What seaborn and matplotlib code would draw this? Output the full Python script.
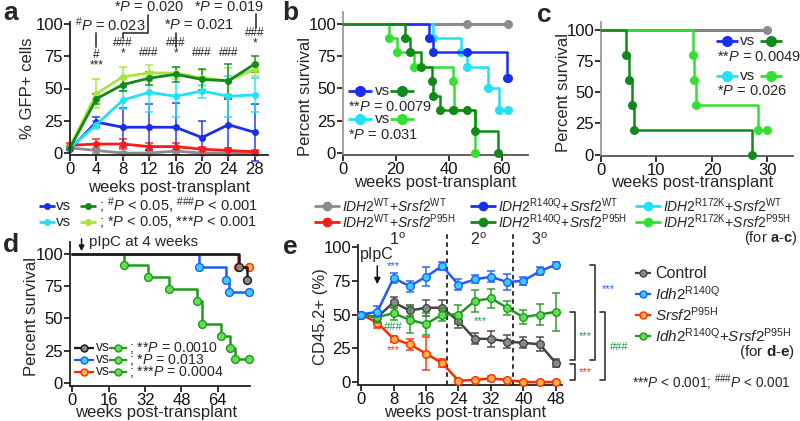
import matplotlib.pyplot as plt
import seaborn as sns
import pandas as pd
from matplotlib.lines import Line2D
from matplotlib import transforms

sns.set_theme(style="ticks")
plt.rcParams['font.family'] = ['Liberation Sans', 'DejaVu Sans']
plt.rcParams['mathtext.fontset'] = 'custom'
plt.rcParams['mathtext.rm'] = 'Liberation Sans'
plt.rcParams['mathtext.it'] = 'Liberation Sans:italic'
plt.rcParams['mathtext.bf'] = 'Liberation Sans:bold'

# ---------------- data ----------------
# panel a: % GFP+ cells
a_weeks = [0, 4, 8, 12, 16, 20, 24, 28]
a_wt_wt = [4, 2, 0, 0, 1.5, 0, 0, 0]
a_wt_wt_err = [1, 2, 1, 1, 2, 1, 1, 1]
a_wt_p95h = [6, 7, 7, 5, 5, 3, 2, 1]
a_wt_p95h_err = [2, 4, 4, 3, 3, 2, 2, 1]
a_r140q_wt = [3, 24, 20, 20, 20, 12, 22, 16]
a_r140q_wt_err = [1, 4, 15, 18, 19, 13, 20, 22]
a_r172k_wt = [4, 22, 41, 47, 44, 48, 44, 45]
a_r172k_wt_err = [1, 3, 7, 15, 16, 5, 16, 13]
a_r140q_p95h = [4, 42, 53, 58, 61, 57, 56, 69]
a_r140q_p95h_err = [1, 4, 5, 5, 6, 8, 13, 6]
a_r172k_p95h = [5, 46, 59, 62, 62, 58, 56, 65]
a_r172k_p95h_err = [1, 11, 8, 6, 5, 6, 10, 5]

# panel b: survival (event times / survival after event, censored points)
b_end = 62.5
b_wt_wt_cens_t = [46.8, 62.5]
b_r140q_wt_t = [32.5, 34, 62]
b_r140q_wt_s = [88.9, 77.8, 58.3]
b_r140q_wt_cens_t = [46.8, 62.5]
b_r172k_wt_t = [34, 44.5, 46.8, 55, 59]
b_r172k_wt_s = [88.9, 77.8, 66.7, 50, 33.3]
b_r172k_wt_cens_t = [62.5]
b_r140q_p95h_t = [23.4, 25.3, 29.4, 33.6, 34, 36.6, 49.8, 58.5]
b_r140q_p95h_s = [88.9, 77.8, 66.7, 55.6, 44.4, 33.3, 16.7, 0]
b_r140q_p95h_cens_t = [41.5, 46.8]
b_r172k_p95h_t = [17.4, 20.4, 27, 41.5, 42, 50]
b_r172k_p95h_s = [88.9, 77.8, 66.7, 55.6, 33.3, 0]

# panel c: survival
c_end = 30
c_r140q_p95h_t = [4.5, 5, 5.5, 6, 27.3]
c_r140q_p95h_s = [80, 60, 40, 20, 0]
c_r172k_p95h_t = [16.5, 16.8, 17.2, 28.3]
c_r172k_p95h_s = [80, 60, 40, 20]
c_r172k_p95h_cens_t = [30]

# panel d: survival
d_ctrl_t = [73.3, 76.9]
d_ctrl_s = [90, 80]
d_srsf_t = [73]
d_srsf_s = [90]
d_srsf_cens_t = [77.8]
d_idh_t = [55.7, 67.6, 69]
d_idh_s = [90, 80, 70]
d_idh_cens_t = [77.8]
d_combo_t = [22.7, 33.3, 42.5, 54.8, 57, 65.4, 69.4, 71.6]
d_combo_s = [90.9, 81.8, 72.7, 63.6, 45.5, 36.4, 27.3, 18.2]
d_combo_cens_t = [77.8]

# panel e: CD45.2+ chimerism
e_weeks = [0, 4, 8, 12, 16, 20, 24, 28, 32, 36, 40, 44, 48]
e_ctrl = [50, 48, 59, 53, 55, 55, 45, 32, 32, 30, 29, 28, 14]
e_ctrl_err = [1, 3, 4, 4, 6, 6, 5, 4, 6, 5, 4, 5, 3]
e_idh = [50, 52, 77, 71, 78, 86, 72, 76, 78, 74, 75, 82, 87]
e_idh_err = [1, 4, 4, 4, 7, 3, 4, 3, 4, 6, 3, 3, 2]
e_srsf = [50, 44, 32, 28, 21, 14, 1, 1.5, 2.7, 1.5, 0, 0, 0]
e_srsf_err = [1, 4, 2, 4, 12, 3, 1, 1, 2, 1, 1, 1, 1]
e_combo = [50, 48, 51, 46, 43, 50, 50, 60, 62, 55, 48, 50, 52]
e_combo_err = [1, 4, 5, 10, 8, 5, 7, 8, 7, 5, 5, 8, 14]
e_phase_bounds = [21.2, 37.4]

# colours
GRAY, RED, BLUE, DKGREEN = '#8c8c8c', '#ff1a1a', '#1a2ef0', '#118a1a'
CYAN, LIME_A, LIME = '#22e0f5', '#a6e63a', '#33e033'

W, H = 800, 421
fig = plt.figure(figsize=(8, 4.21), dpi=100)


def fx(x):
    return x / W


def fy(y):
    return 1 - y / H


def add_axes(l, t, r, b):
    return fig.add_axes([fx(l), fy(b), (r - l) / W, (b - t) / H])


def ftext(x, y, s, size=11.5, **kw):
    kw.setdefault('ha', 'left')
    kw.setdefault('va', 'center')
    fig.text(fx(x), fy(y), s, fontsize=size, **kw)


def fline(xs, ys, color='#333333', lw=1.2, **kw):
    fig.add_artist(Line2D([fx(v) for v in xs], [fy(v) for v in ys], color=color,
                          lw=lw, transform=fig.transFigure, **kw))


def leg_item(xc, y, color, face=None, edge=None, half=9, ms=6, lw=2):
    fline([xc - half, xc + half], [y, y], color=color, lw=lw, solid_capstyle='butt')
    fig.add_artist(Line2D([fx(xc)], [fy(y)], marker='o', ms=ms, lw=0,
                          mfc=face or color, mec=edge or color, mew=1,
                          transform=fig.transFigure))


def style_ax(ax, left_color='#222222', bottom_color='#222222'):
    sns.despine(ax=ax)
    ax.spines['left'].set_color(left_color)
    ax.spines['bottom'].set_color(bottom_color)
    for s in ('left', 'bottom'):
        ax.spines[s].set_linewidth(1.3)
    ax.tick_params(labelsize=12, length=4, width=1.2, pad=1, colors='#111111')
    ax.set_xlabel('')
    ax.set_ylabel('')


def mean_sem(ax, x, y, err, color, face=None, ms=4, lw=2, capsize=3, z=2):
    sns.lineplot(x=x, y=y, color=color, lw=lw, marker='o', ms=ms, mfc=face or color,
                 mec=color, mew=1, ax=ax, zorder=z, clip_on=False)
    ax.errorbar(x, y, yerr=err, fmt='none', ecolor=color, elinewidth=1.2,
                capsize=capsize, capthick=1.2, alpha=0.85, zorder=z - 0.5, clip_on=False)


def km(ax, t_ev, s_ev, end, color, cens_t=(), face=None, edge=None, size=30, lw=1.8, z=2):
    last = s_ev[-1] if len(s_ev) else 100
    t = [0] + list(t_ev) + [end]
    s = [100] + list(s_ev) + [last]
    df = pd.DataFrame({'t': t, 's': s})
    sns.lineplot(data=df, x='t', y='s', drawstyle='steps-post', estimator=None, sort=False,
                 color=color, lw=lw, ax=ax, zorder=z, clip_on=False)
    # survival level at each censoring time
    cens_s = []
    for ct in cens_t:
        lvl = 100
        for tt, ss in zip(t_ev, s_ev):
            if tt <= ct:
                lvl = ss
        cens_s.append(lvl)
    px = list(t_ev) + list(cens_t)
    py = list(s_ev) + cens_s
    if px:
        sns.scatterplot(x=px, y=py, s=size, color=face or color, edgecolor=edge or color,
                        linewidth=1, ax=ax, zorder=z + 0.5, clip_on=False)


# ================= panel a =================
axa = add_axes(70, 22, 268, 155)
mean_sem(axa, a_weeks, a_wt_wt, a_wt_wt_err, GRAY)
mean_sem(axa, a_weeks, a_wt_p95h, a_wt_p95h_err, RED)
mean_sem(axa, a_weeks, a_r140q_wt, a_r140q_wt_err, BLUE)
mean_sem(axa, a_weeks, a_r172k_wt, a_r172k_wt_err, CYAN)
mean_sem(axa, a_weeks, a_r172k_p95h, a_r172k_p95h_err, LIME_A)
mean_sem(axa, a_weeks, a_r140q_p95h, a_r140q_p95h_err, DKGREEN)
axa.set_xlim(0, 30)
axa.set_ylim(-1.5, 101.5)
axa.set_xticks(a_weeks)
axa.set_yticks([0, 25, 50, 75, 100])
style_ax(axa)
ftext(28, 88, '% GFP+ cells', size=12, rotation=90, ha='center')
ftext(169, 188, 'weeks post-transplant', size=12, ha='center')

# significance marks above time points
ta = transforms.blended_transform_factory(axa.transData, fig.transFigure)
marks = {4: [('#', 55), ('***', 65)], 8: [('###', 43), ('*', 53)], 12: [('###', 53)],
         16: [('###', 43), ('*', 53)], 20: [('###', 53)], 24: [('###', 53)],
         28: [('###', 33), ('*', 43)]}
for wk, items in marks.items():
    for s, y in items:
        axa.text(wk, fy(y), s, transform=ta, ha='center', va='center', fontsize=8.5)
ftext(110, 25, r'$^{\#}\mathit{P}$ = 0.023', size=10.5, ha='center')
ftext(199, 25, r'*$\mathit{P}$ = 0.021', size=10.5, ha='center')
ftext(149, 7, r'*$\mathit{P}$ = 0.020', size=10.5, ha='center')
ftext(229, 7, r'*$\mathit{P}$ = 0.019', size=10.5, ha='center')
fline([96, 96], [33, 47])
fline([176, 176], [33, 47])
fline([256, 256], [14, 28])
fline([148, 148, 123, 123], [15, 33, 33, 38])

# legend rows under a
leg_item(47, 206, BLUE, half=8, ms=4)
ftext(56, 206, 'vs', size=11)
leg_item(88, 206, DKGREEN, half=8, ms=4)
ftext(99, 206, r'; $^{\#}\mathit{P}$ < 0.05, $^{\#\#\#}\mathit{P}$ < 0.001', size=10.5)
leg_item(47, 222, CYAN, half=8, ms=4)
ftext(56, 222, 'vs', size=11)
leg_item(88, 222, LIME_A, half=8, ms=4)
ftext(99, 222, r'; *$\mathit{P}$ < 0.05, ***$\mathit{P}$ < 0.001', size=10.5)

# ================= panel b =================
axb = add_axes(343, 12, 528, 155)
km(axb, [], [], b_end, RED, z=2)
km(axb, [], [], b_end, GRAY, cens_t=b_wt_wt_cens_t, z=3)
km(axb, b_r172k_wt_t, b_r172k_wt_s, b_end, CYAN, cens_t=b_r172k_wt_cens_t, z=4)
km(axb, b_r140q_wt_t, b_r140q_wt_s, b_end, BLUE, cens_t=b_r140q_wt_cens_t, z=5)
km(axb, b_r172k_p95h_t, b_r172k_p95h_s, b_r172k_p95h_t[-1], LIME, z=6)
km(axb, b_r140q_p95h_t, b_r140q_p95h_s, b_r140q_p95h_t[-1], DKGREEN,
   cens_t=b_r140q_p95h_cens_t, z=7)
axb.set_xlim(0, 70)
axb.set_ylim(-1.5, 109)
axb.set_xticks([0, 20, 40, 60])
axb.set_yticks([0, 25, 50, 75, 100])
style_ax(axb, left_color='#9a9a9a', bottom_color='#555555')
ftext(305, 96, 'Percent survival', size=12, rotation=90, ha='center')
ftext(435, 183, 'weeks post-transplant', size=12, ha='center')
leg_item(360, 91, BLUE, half=12, ms=7)
ftext(375, 91, 'vs', size=11)
leg_item(402, 91, DKGREEN, half=12, ms=7)
ftext(348, 107, r'**$\mathit{P}$ = 0.0079', size=10.5)
leg_item(360, 119, CYAN, half=12, ms=7)
ftext(375, 119, 'vs', size=11)
leg_item(402, 119, LIME, half=12, ms=7)
ftext(348, 135, r'*$\mathit{P}$ = 0.031', size=10.5)

# ================= panel c =================
axc = add_axes(601, 22, 793, 156)
km(axc, [], [], c_end, RED, z=2)
km(axc, [], [], c_end, CYAN, z=3)
km(axc, [], [], c_end, BLUE, z=4)
km(axc, [], [], c_end, GRAY, cens_t=[c_end], z=5)
km(axc, c_r172k_p95h_t, c_r172k_p95h_s, c_end, LIME, cens_t=c_r172k_p95h_cens_t, z=6)
km(axc, c_r140q_p95h_t, c_r140q_p95h_s, c_r140q_p95h_t[-1], DKGREEN, z=7)
axc.set_xlim(0, 34.6)
axc.set_ylim(-1.2, 106.5)
axc.set_xticks([0, 10, 20, 30])
axc.set_yticks([0, 25, 50, 75, 100])
style_ax(axc, left_color='#9a9a9a', bottom_color='#555555')
ftext(563, 92, 'Percent survival', size=12, rotation=90, ha='center')
ftext(692, 183, 'weeks post-transplant', size=12, ha='center')
leg_item(727, 41, BLUE, half=11, ms=7)
ftext(740, 41, 'vs', size=11)
leg_item(771, 41, DKGREEN, half=11, ms=7)
ftext(717, 57, r'**$\mathit{P}$ = 0.0049', size=10.5)
leg_item(727, 76, CYAN, half=11, ms=7)
ftext(740, 76, 'vs', size=11)
leg_item(771, 76, LIME, half=11, ms=7)
ftext(717, 91, r'*$\mathit{P}$ = 0.026', size=10.5)

# ================= middle legend (a-c) =================
geno = [
    (327, 206, GRAY, r'$\mathit{IDH2}^{\mathrm{WT}}$+$\mathit{Srsf2}^{\mathrm{WT}}$'),
    (327, 222, RED, r'$\mathit{IDH2}^{\mathrm{WT}}$+$\mathit{Srsf2}^{\mathrm{P95H}}$'),
    (483, 206, BLUE, r'$\mathit{IDH2}^{\mathrm{R140Q}}$+$\mathit{Srsf2}^{\mathrm{WT}}$'),
    (483, 222, DKGREEN, r'$\mathit{IDH2}^{\mathrm{R140Q}}$+$\mathit{Srsf2}^{\mathrm{P95H}}$'),
    (648, 206, CYAN, r'$\mathit{IDH2}^{\mathrm{R172K}}$+$\mathit{Srsf2}^{\mathrm{WT}}$'),
    (648, 222, LIME, r'$\mathit{IDH2}^{\mathrm{R172K}}$+$\mathit{Srsf2}^{\mathrm{P95H}}$'),
]
for xc, y, c, lab in geno:
    leg_item(xc, y, c, half=13, ms=6)
    ftext(xc + 15, y, lab, size=10)
ftext(797, 238, r'(for $\mathbf{a}$-$\mathbf{c}$)', size=10.5, ha='right')

# ================= panel d =================
D_BLACK, D_BLUE, D_RED, D_GREEN = '#1a1a1a', '#1f5cff', '#ff2a00', '#1f9a1f'
D_GRAYF, D_CYANF, D_ORANGEF, D_GREENF = '#8a8a8a', '#35d0ff', '#ffb347', '#66dd55'
axd = add_axes(70, 242, 250, 386)
km(axd, d_idh_t, d_idh_s, 77.8, D_BLUE, cens_t=d_idh_cens_t, face=D_CYANF, edge=D_BLUE, size=32, z=3)
km(axd, d_combo_t, d_combo_s, 77.8, D_GREEN, cens_t=d_combo_cens_t, face=D_GREENF, edge=D_GREEN,
   size=32, z=4)
km(axd, d_srsf_t, d_srsf_s, 77.8, D_RED, cens_t=d_srsf_cens_t, face=D_ORANGEF, edge=D_RED,
   size=32, z=5)
km(axd, d_ctrl_t, d_ctrl_s, 77.5, D_BLACK, face=D_GRAYF, edge=D_BLACK, size=32, z=6)
axd.set_xlim(-1.1, 78.2)
axd.set_ylim(-2.3, 109)
axd.set_xticks([0, 16, 32, 48, 64])
axd.set_yticks([0, 25, 50, 75, 100])
style_ax(axd)
ftext(32, 317, 'Percent survival', size=12, rotation=90, ha='center')
ftext(156, 413, 'weeks post-transplant', size=12, ha='center')
td = transforms.blended_transform_factory(axd.transData, fig.transFigure)
axd.annotate('', xy=(4, fy(254)), xytext=(4, fy(236)), xycoords=td, textcoords=td,
             arrowprops=dict(arrowstyle='-|>', color='#111111', lw=1.1, mutation_scale=8))
ftext(89, 242, 'pIpC at 4 weeks', size=11)
d_rows = [(348, D_BLACK, D_GRAYF, r'; **$\mathit{P}$ = 0.0010'),
          (360, D_BLUE, D_CYANF, r'; *$\mathit{P}$ = 0.013'),
          (372, D_RED, D_ORANGEF, r'; ***$\mathit{P}$ = 0.0004')]
for y, c, f, s in d_rows:
    leg_item(84, y, c, face=f, edge=c, half=10, ms=5, lw=1.6)
    ftext(96, y - 1, 'vs', size=10)
    leg_item(118, y, D_GREEN, face=D_GREENF, edge=D_GREEN, half=9, ms=5, lw=1.6)
    ftext(129, y, s, size=10.2)

# ================= panel e =================
axe = add_axes(358, 245, 562, 385)
mean_sem(axe, e_weeks, e_srsf, e_srsf_err, D_RED, face=D_ORANGEF, ms=5.5, lw=1.8, z=3)
mean_sem(axe, e_weeks, e_ctrl, e_ctrl_err, '#444444', face=D_GRAYF, ms=5.5, lw=1.8, z=4)
mean_sem(axe, e_weeks, e_combo, e_combo_err, D_GREEN, face=D_GREENF, ms=5.5, lw=1.8, z=5)
mean_sem(axe, e_weeks, e_idh, e_idh_err, D_BLUE, face=D_CYANF, ms=5.5, lw=1.8, z=6)
for xb in e_phase_bounds:
    axe.axvline(xb, ymin=0, ymax=1.09, color='#222222', ls=(0, (2.5, 2)), lw=1.3, clip_on=False)
axe.set_xlim(-0.75, 49.5)
axe.set_ylim(-2.2, 101.5)
axe.set_xticks([0, 8, 16, 24, 32, 40, 48])
axe.set_yticks([0, 25, 50, 75, 100])
style_ax(axe)
ftext(320, 317, 'CD45.2+ (%)', size=12, rotation=90, ha='center')
ftext(465, 413, 'weeks post-transplant', size=12, ha='center')
te = transforms.blended_transform_factory(axe.transData, fig.transFigure)
for s, xwk in [('1$^{\\mathrm{o}}$', 9), ('2$^{\\mathrm{o}}$', 29), ('3$^{\\mathrm{o}}$', 44)]:
    axe.text(xwk, fy(240), s, transform=te, ha='center', va='center', fontsize=11.5)
axe.text(4, fy(255), 'pIpC', transform=te, ha='center', va='center', fontsize=11.5)
axe.annotate('', xy=(4, fy(287)), xytext=(4, fy(263)), xycoords=te, textcoords=te,
             arrowprops=dict(arrowstyle='-|>', color='#111111', lw=1.1, mutation_scale=9))
axe.text(8, fy(266), '***', transform=te, ha='center', va='center', fontsize=8, color=D_BLUE)
axe.text(8, fy(327), '###', transform=te, ha='center', va='center', fontsize=8, color='#1f9a4a')
axe.text(8, fy(350), '***', transform=te, ha='center', va='center', fontsize=8, color=D_RED)
axe.text(29.5, fy(321), '***', transform=te, ha='center', va='center', fontsize=8, color='#1f9a4a')

# comparison brackets
fline([590, 595, 595, 590], [265, 265, 360, 360])
ftext(602, 289, '***', size=8, color=D_BLUE)
fline([570, 575, 575, 570], [312, 312, 360, 360])
ftext(579, 336, '***', size=8, color='#1f9a4a')
fline([570, 575, 575, 570], [364, 364, 380, 380])
ftext(579, 372, '***', size=8, color=D_RED)
fline([600, 605, 605, 600], [312, 312, 380, 380])
ftext(610, 347, '###', size=8, color='#1f9a4a')

# legend e
e_leg = [(273, '#444444', D_GRAYF, 'Control'),
         (294, D_BLUE, D_CYANF, r'$\mathit{Idh2}^{\mathrm{R140Q}}$'),
         (315, D_RED, D_ORANGEF, r'$\mathit{Srsf2}^{\mathrm{P95H}}$'),
         (336, D_GREEN, D_GREENF, r'$\mathit{Idh2}^{\mathrm{R140Q}}$+$\mathit{Srsf2}^{\mathrm{P95H}}$')]
for y, c, f, s in e_leg:
    leg_item(643, y, c, face=f, edge=c, half=8, ms=5, lw=1.6)
    ftext(655, y, s, size=11.5 if s == 'Control' else 11)
ftext(795, 352, r'(for $\mathbf{d}$-$\mathbf{e}$)', size=11, ha='right')
ftext(632, 383, r'***$\mathit{P}$ < 0.001; $^{\#\#\#}\mathit{P}$ < 0.001', size=9.8)

# panel letters
for s, x, y in [('a', 3, 13), ('b', 282, 13), ('c', 537, 15), ('d', 3, 245), ('e', 283, 247)]:
    ftext(x, y, s, size=19, fontweight='bold')

fig.savefig('out.png', dpi=100)
